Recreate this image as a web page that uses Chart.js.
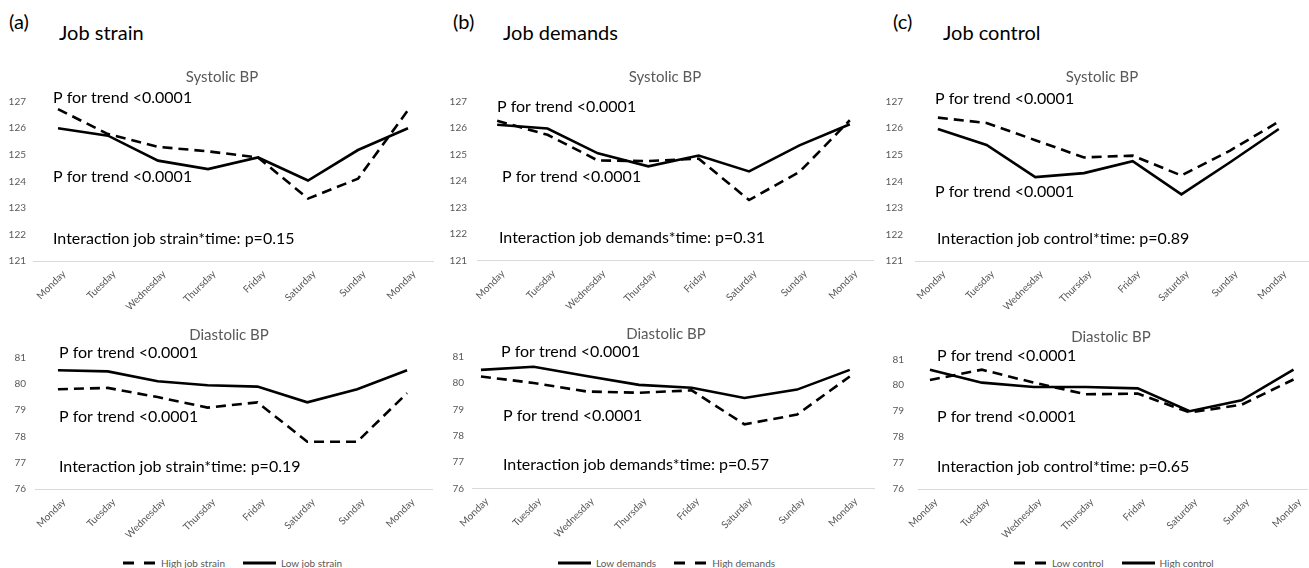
<!DOCTYPE html>
<html>
<head>
<meta charset="utf-8">
<script src="https://cdn.jsdelivr.net/npm/chart.js@4.4.1/dist/chart.umd.min.js"></script>
<style>
    body { margin: 0; width: 1309px; height: 568px; background: #fff; position: relative; overflow: hidden; font-family: Lato, "Open Sans", sans-serif; }
    .hdr { position: absolute; font-size: 20px; line-height: 20px; color: #000; white-space: nowrap; }
    .panel { position: absolute; }
    .legend { position: absolute; top: 556px; height: 14px; display: flex; align-items: center; font-size: 10px; color: #595959; white-space: nowrap; }
    .legend .item { display: flex; align-items: center; margin-right: 18px; }
    .legend svg { margin-right: 5px; }
</style>
</head>
<body>

<div class="hdr" style="left:9px;top:11px">(a)</div>
<div class="hdr" style="left:59px;top:22px">Job strain</div>
<div class="hdr" style="left:453px;top:11px">(b)</div>
<div class="hdr" style="left:503px;top:22px">Job demands</div>
<div class="hdr" style="left:893px;top:11px">(c)</div>
<div class="hdr" style="left:943px;top:22px">Job control</div>

<script>
/*************************************************
 * 1. Data
 *************************************************/
const days = ["Monday", "Tuesday", "Wednesday", "Thursday", "Friday", "Saturday", "Sunday", "Monday"];
const sysTicks = [121, 122, 123, 124, 125, 126, 127];
const diaTicks = [76, 77, 78, 79, 80, 81];

// (a) job strain
const strainSysHigh = [126.72, 125.78, 125.3, 125.13, 124.9, 123.35, 124.1, 126.68];
const strainSysLow  = [126.0, 125.72, 124.78, 124.46, 124.9, 124.03, 125.18, 126.0];
const strainDiaHigh = [79.8, 79.85, 79.5, 79.1, 79.3, 77.8, 77.8, 79.65];
const strainDiaLow  = [80.52, 80.48, 80.1, 79.95, 79.9, 79.3, 79.8, 80.52];

// (b) job demands
const demandsSysLow  = [126.13, 125.99, 125.05, 124.56, 124.97, 124.37, 125.35, 126.15];
const demandsSysHigh = [126.28, 125.75, 124.78, 124.76, 124.85, 123.29, 124.35, 126.3];
const demandsDiaLow  = [80.5, 80.62, 80.27, 79.93, 79.82, 79.43, 79.75, 80.5];
const demandsDiaHigh = [80.25, 80.0, 79.68, 79.63, 79.72, 78.43, 78.8, 80.25];

// (c) job control
const controlSysLow  = [126.4, 126.2, 125.55, 124.9, 124.97, 124.22, 125.16, 126.25];
const controlSysHigh = [125.97, 125.37, 124.16, 124.31, 124.76, 123.51, 124.72, 125.97];
const controlDiaLow  = [80.2, 80.6, 80.1, 79.65, 79.68, 78.95, 79.25, 80.22];
const controlDiaHigh = [80.6, 80.1, 79.93, 79.93, 79.88, 79.0, 79.42, 80.6];

const trendText = "P for trend <0.0001";
const interactionText = {
    strainSys: "Interaction job strain*time: p=0.15",
    strainDia: "Interaction job strain*time: p=0.19",
    demandsSys: "Interaction job demands*time: p=0.31",
    demandsDia: "Interaction job demands*time: p=0.57",
    controlSys: "Interaction job control*time: p=0.89",
    controlDia: "Interaction job control*time: p=0.65"
};

/*************************************************
 * 2. Panels (layout only)
 *************************************************/
// box = canvas [left, top, width, height]; area = plot area [left, top, right, bottom]
const panels = [
    { title: "Systolic BP", titleX: 222, titleY: 77, ticks: sysTicks, box: [0, 50, 440, 260], area: [33, 101.7, 433, 261], xRange: [-0.5, 7.5], yPad: 7,
      series: [{ name: "High job strain", values: strainSysHigh, dashed: true }, { name: "Low job strain", values: strainSysLow }],
      notes: [[trendText, 20, 127.14], [trendText, 20, 124.16], [interactionText.strainSys, 20, 121.85]] },
    { title: "Diastolic BP", titleX: 229, titleY: 335, ticks: diaTicks, box: [0, 310, 440, 240], area: [35, 357.7, 432, 489], xRange: [-0.46, 7.5], yPad: 9,
      series: [{ name: "High job strain", values: strainDiaHigh, dashed: true }, { name: "Low job strain", values: strainDiaLow }],
      notes: [[trendText, 24, 81.18], [trendText, 24, 78.74], [interactionText.strainDia, 24, 76.85]], legendLeft: 123 },

    { title: "Systolic BP", titleX: 665, titleY: 77, ticks: sysTicks, box: [440, 50, 440, 260], area: [477, 101.7, 873, 260.7], xRange: [-0.4, 7.46], yPad: 10,
      series: [{ name: "Low demands", values: demandsSysLow }, { name: "High demands", values: demandsSysHigh, dashed: true }],
      notes: [[trendText, 20, 126.81], [trendText, 25, 124.16], [interactionText.demandsSys, 22, 121.87]] },
    { title: "Diastolic BP", titleX: 666, titleY: 334, ticks: diaTicks, box: [440, 310, 440, 240], area: [472, 356.7, 874, 488.3], xRange: [-0.17, 7.46], yPad: 8,
      series: [{ name: "Low demands", values: demandsDiaLow }, { name: "High demands", values: demandsDiaHigh, dashed: true }],
      notes: [[trendText, 29, 81.19], [trendText, 31, 78.75], [interactionText.demandsDia, 31, 76.89]], legendLeft: 558 },

    { title: "Systolic BP", titleX: 1102, titleY: 77, ticks: sysTicks, box: [880, 50, 429, 260], area: [915, 101.7, 1308, 261], xRange: [-0.47, 7.6], yPad: 12,
      series: [{ name: "Low control", values: controlSysLow, dashed: true }, { name: "High control", values: controlSysHigh }],
      notes: [[trendText, 20, 127.09], [trendText, 20, 123.6], [interactionText.controlSys, 22, 121.85]] },
    { title: "Diastolic BP", titleX: 1111, titleY: 337, ticks: diaTicks, box: [880, 310, 429, 240], area: [918, 359.3, 1309, 489], xRange: [-0.23, 7.27], yPad: 14,
      series: [{ name: "Low control", values: controlDiaLow, dashed: true }, { name: "High control", values: controlDiaHigh }],
      notes: [[trendText, 19, 81.13], [trendText, 19, 78.79], [interactionText.controlDia, 19, 76.86]], legendLeft: 1014 }
];

Chart.defaults.font.family = "Lato, 'Open Sans', sans-serif";

/*************************************************
 * 3. Charts
 *************************************************/
function notesPlugin(p) {
    return {
        id: "panelNotes",
        afterDraw(chart) {
            const { ctx, chartArea, scales } = chart;
            ctx.save();
            ctx.fillStyle = "#595959";
            ctx.font = "15px Lato";
            ctx.textAlign = "center";
            ctx.textBaseline = "middle";
            ctx.fillText(p.title, p.titleX - p.box[0], p.titleY - p.box[1]);

            ctx.fillStyle = "#000";
            ctx.font = "16px Lato";
            ctx.textAlign = "left";
            p.notes.forEach(([text, dx, y]) => {
                ctx.fillText(text, chartArea.left + dx, scales.y.getPixelForValue(y));
            });
            ctx.restore();
        }
    };
}

function makeChart(p) {
    const [cl, ct, cw, ch] = p.box;
    const [al, at, ar, ab] = p.area;

    const wrap = document.createElement("div");
    wrap.className = "panel";
    wrap.style.cssText = `left:${cl}px;top:${ct}px;width:${cw}px;height:${ch}px`;
    const canvas = document.createElement("canvas");
    canvas.width = cw;
    canvas.height = ch;
    canvas.style.width = cw + "px";
    canvas.style.height = ch + "px";
    wrap.appendChild(canvas);
    document.body.appendChild(wrap);

    new Chart(canvas, {
        type: "line",
        data: {
            labels: days.map((d, i) => i),
            datasets: p.series.map(s => ({
                label: s.name,
                data: s.values,
                borderColor: "#000",
                borderWidth: 2.6,
                borderDash: s.dashed ? [10, 6] : [],
                pointRadius: 0,
                tension: 0,
                fill: false
            }))
        },
        options: {
            responsive: false,
            animation: false,
            layout: { padding: { left: 0, top: at - ct, right: cl + cw - ar, bottom: 0 } },
            plugins: { legend: { display: false }, tooltip: { enabled: false } },
            scales: {
                x: {
                    type: "linear",
                    min: p.xRange[0],
                    max: p.xRange[1],
                    grid: { display: false, drawTicks: false },
                    border: { display: true, color: "#d9d9d9", width: 1 },
                    ticks: {
                        autoSkip: false, minRotation: 45, maxRotation: 45,
                        padding: 7, labelOffset: 6,
                        color: "#595959", font: { size: 10 },
                        callback: v => days[v]
                    },
                    afterBuildTicks: s => { s.ticks = days.map((d, i) => ({ value: i })); },
                    afterFit: s => { s.height = ct + ch - ab; }
                },
                y: {
                    min: p.ticks[0],
                    max: p.ticks[p.ticks.length - 1],
                    grid: { display: false, drawTicks: false },
                    border: { display: false },
                    ticks: { stepSize: 1, padding: p.yPad, color: "#595959", font: { size: 10 } },
                    afterFit: s => { s.width = al - cl; }
                }
            }
        },
        plugins: [notesPlugin(p)]
    });

    if (p.legendLeft !== undefined) renderLegend(p);
}

function renderLegend(p) {
    const box = document.createElement("div");
    box.className = "legend";
    box.style.left = p.legendLeft + "px";
    box.innerHTML = p.series.map(s => `
        <div class="item">
            <svg width="33" height="6"><line x1="0" y1="3" x2="33" y2="3" stroke="#000" stroke-width="3"
                ${s.dashed ? 'stroke-dasharray="11 10"' : ""}/></svg>
            <span>${s.name}</span>
        </div>`).join("");
    document.body.appendChild(box);
}

panels.forEach(makeChart);
</script>
</body>
</html>
